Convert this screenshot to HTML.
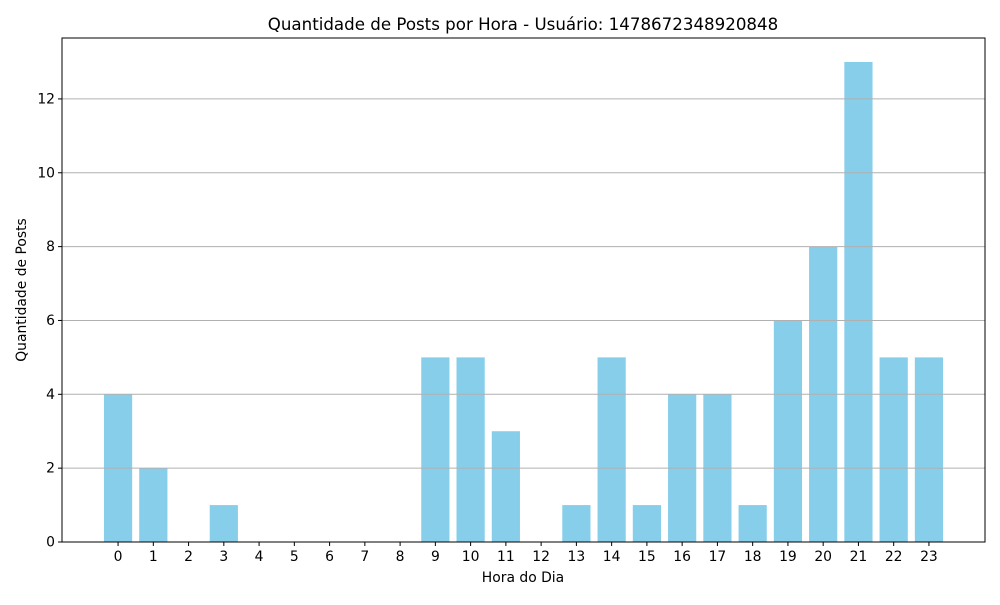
<!DOCTYPE html>
<html><head><meta charset="utf-8"><style>
body{margin:0;background:#fff;}
svg text{font-family:"DejaVu Sans","Liberation Sans",sans-serif;fill:#000;}
</style></head><body>
<svg id="chart" width="1000" height="600" xmlns="http://www.w3.org/2000/svg">
<rect width="1000" height="600" fill="#fff"/>
<text x="523" y="30" font-size="16.67" text-anchor="middle">Quantidade de Posts por Hora - Usuário: 1478672348920848</text>
<g id="bars"></g><g id="grid"></g><g id="xt"></g><g id="yt"></g>
<rect x="62" y="38" width="923" height="504" fill="none" stroke="#000" stroke-width="1"/>
<text x="523" y="582" font-size="13.9" text-anchor="middle">Hora do Dia</text>
<text transform="translate(26,290) rotate(-90)" font-size="13.9" text-anchor="middle">Quantidade de Posts</text>
</svg>
<script>
const hours=[0,1,2,3,4,5,6,7,8,9,10,11,12,13,14,15,16,17,18,19,20,21,22,23];
const counts=[4,2,0,1,0,0,0,0,0,5,5,3,0,1,5,1,4,4,1,6,8,13,5,5];
const yTicks=[0,2,4,6,8,10,12];
const NS="http://www.w3.org/2000/svg";
const L=62,R=985,T=38,B=542;
const xmin=-1.59,xmax=24.59;
const ymax=Math.max(...counts)*1.05;
const xs=v=>L+(v-xmin)/(xmax-xmin)*(R-L);
const ys=v=>B-v/ymax*(B-T);
function mk(tag,attrs,parent){const e=document.createElementNS(NS,tag);for(const k in attrs)e.setAttribute(k,attrs[k]);document.getElementById(parent).appendChild(e);return e;}
yTicks.forEach(t=>{
  const y=ys(t);
  if(t>0){const g=mk('line',{x1:L,x2:R,y1:y,y2:y,stroke:'#b0b0b0','stroke-width':1},'grid');
  
  }
  const tk=mk('line',{x1:L-4,x2:L,y1:y,y2:y,stroke:'#000'},'yt');
  
  
  const tx=mk('text',{x:L-7,y:y+4.5,'font-size':13.9,'text-anchor':'end'},'yt');tx.textContent=t;
  
  
});
const bw=(xs(0.8)-xs(0));
hours.forEach((h,i)=>{
  const v=counts[i];
  const r=mk('rect',{x:xs(h)-bw/2,y:ys(v),width:bw,height:B-ys(v),fill:'#87ceeb'},'bars');
  
  
  const x=xs(h);
  const tk=mk('line',{x1:x,x2:x,y1:B,y2:B+4,stroke:'#000'},'xt');
  
  
  const tx=mk('text',{x:x,y:B+19,'font-size':13.9,'text-anchor':'middle'},'xt');tx.textContent=h;
  
  
});
</script>
</body></html>
